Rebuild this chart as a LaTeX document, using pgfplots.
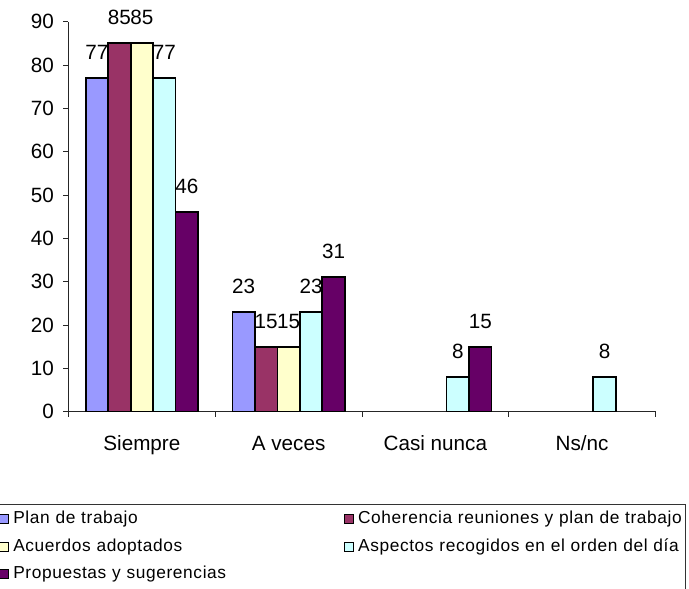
\documentclass[border=0pt]{standalone}
\usepackage{fontspec}
\setmainfont{Liberation Sans}
\newfontfamily\legfont[LetterSpace=3.5]{Liberation Sans}
\usepackage{pgfplots}
\pgfplotsset{compat=1.18}
\definecolor{cPlan}{HTML}{9999FF}
\definecolor{cCoh}{HTML}{993366}
\definecolor{cAcu}{HTML}{FFFFCC}
\definecolor{cAsp}{HTML}{CCFFFF}
\definecolor{cPro}{HTML}{660066}
\begin{document}
\begin{tikzpicture}
\path[use as bounding box] (0,0) rectangle (516.75pt,441.75pt);
\begin{axis}[
  at={(51.375pt,132.975pt)}, anchor=south west,
  scale only axis, width=440.25pt, height=292.5pt,
  ybar=0pt, bar width=0.153,
  xmin=-0.5, xmax=3.5, ymin=0, ymax=90,
  ytick={0,10,...,90},
  xtick={-0.5,0.5,1.5,2.5,3.5}, xticklabels={},
  extra x ticks={0,1,2,3},
  extra x tick labels={Siempre,A veces,Casi nunca,Ns/nc},
  extra x tick style={major tick length=0pt, xticklabel style={yshift=-14pt, text height=11.5pt, text depth=3pt}},
  axis lines*=left,
  axis line style={black!85, line width=0.6pt},
  tick align=outside, major tick length=3.75pt,
  tick style={black!85, line width=0.6pt},
  /pgf/number format/assume math mode=true,
  tick label style={font=\fontsize{15.5}{18}\selectfont},
  yticklabel style={xshift=-3.7pt},
  nodes near coords,
  nodes near coords style={font=\fontsize{15.5}{18}\selectfont, yshift=9.8pt},
  legend image code/.code={\draw[#1,line width=0.6pt] (0pt,-3.4pt) rectangle (6.8pt,3.4pt);},
  legend columns=2, legend cell align=left,
  legend style={at={(-0.1218,-0.2354)}, anchor=north west, draw=black!80, line width=0.6pt,
    inner xsep=1.5pt, inner ysep=5pt, font={\fontsize{13}{15}\legfont}, row sep=7.9pt,
    nodes={inner sep=0pt, text width=243.75pt, align=left, text height=9.75pt, text depth=3pt},
    /tikz/every odd column/.append style={column sep=3pt},
    /tikz/every even column/.append style={column sep=4.5pt}},
]
\addplot[fill=cPlan, draw=black, line width=1.3pt] coordinates {(0,77) (1,23)};
\addlegendentry{Plan de trabajo}
\addplot[fill=cCoh, draw=black, line width=1.3pt] coordinates {(0,85) (1,15)};
\addlegendentry{Coherencia reuniones y plan de trabajo}
\addplot[fill=cAcu, draw=black, line width=1.3pt] coordinates {(0,85) (1,15)};
\addlegendentry{Acuerdos adoptados}
\addplot[fill=cAsp, draw=black, line width=1.3pt] coordinates {(0,77) (1,23) (2,8) (3,8)};
\addlegendentry{Aspectos recogidos en el orden del día}
\addplot[fill=cPro, draw=black, line width=1.3pt] coordinates {(0,46) (1,31) (2,15)};
\addlegendentry{Propuestas y sugerencias}
\end{axis}
\end{tikzpicture}
\end{document}
